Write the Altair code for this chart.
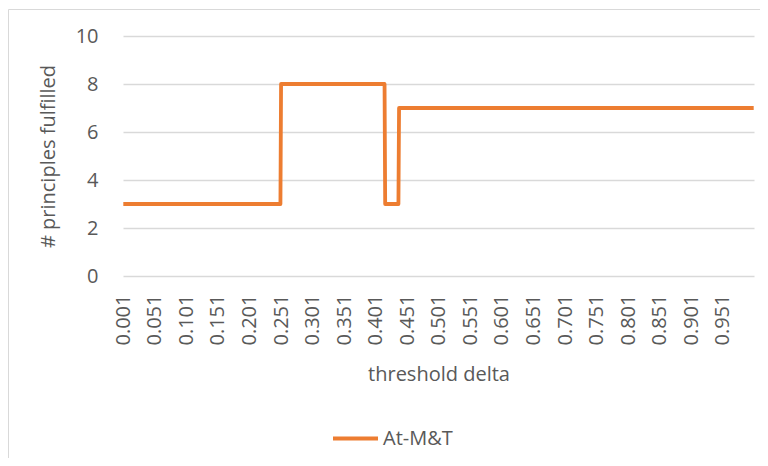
import altair as alt
import pandas as pd

# step vertices of the series (threshold delta -> # principles fulfilled)
delta = [0.001, 0.250, 0.251, 0.415, 0.416, 0.437, 0.438, 1.000]
fulfilled = [3, 3, 8, 8, 3, 3, 7, 7]
series = ["At-M&T"] * len(delta)

x_ticks = [0.001, 0.051, 0.101, 0.151, 0.201, 0.251, 0.301, 0.351, 0.401, 0.451,
           0.501, 0.551, 0.601, 0.651, 0.701, 0.751, 0.801, 0.851, 0.901, 0.951]
y_ticks = [0, 2, 4, 6, 8, 10]

df = pd.DataFrame({"delta": delta, "fulfilled": fulfilled, "series": series})

FONT = "Open Sans"
GREY = "#595959"

line = alt.Chart(df).mark_line(strokeWidth=3.8, strokeJoin="round").encode(
    x=alt.X("delta:Q",
            scale=alt.Scale(domain=[0.0005, 1.0005], nice=False, zero=False),
            axis=alt.Axis(values=x_ticks, format=".3f", labelAngle=-90,
                          title="threshold delta", grid=False, domain=False,
                          ticks=False, tickSize=0, labelPadding=18,
                          titlePadding=20)),
    y=alt.Y("fulfilled:Q",
            scale=alt.Scale(domain=[0, 10], nice=False),
            axis=alt.Axis(values=y_ticks, title="# principles fulfilled",
                          grid=True, gridColor="#d9d9d9", gridWidth=1.5,
                          domain=False, ticks=False, tickSize=0,
                          labelPadding=25, titlePadding=17)),
    color=alt.Color("series:N",
                    scale=alt.Scale(range=["#ED7D31"]),
                    legend=alt.Legend(title=None, orient="none",
                                      legendX=208, legendY=378,
                                      symbolType="stroke", symbolSize=2025,
                                      symbolStrokeWidth=4, labelOffset=3,
                                      padding=0)),
)

border_left = alt.Chart(pd.DataFrame({"k": [0]})).mark_rule(
    color="#d9d9d9", strokeWidth=1).encode(
    x=alt.value(-114.5), y=alt.value(-26.5), y2=alt.value(440))
border_top = alt.Chart(pd.DataFrame({"k": [0]})).mark_rule(
    color="#d9d9d9", strokeWidth=1).encode(
    x=alt.value(-114.5), x2=alt.value(700), y=alt.value(-26.5))

chart = alt.layer(border_left, border_top, line).properties(
    width=631, height=240,
    autosize=alt.AutoSizeParams(type="none"),
    padding={"left": 115, "top": 28, "right": 6, "bottom": 182},
).configure_view(stroke=None).configure_axis(
    labelFont=FONT, titleFont=FONT, labelFontSize=20, titleFontSize=20,
    labelColor=GREY, titleColor=GREY, titleFontWeight="normal",
).configure_legend(
    labelFont=FONT, labelFontSize=20, labelColor=GREY,
)

chart.save("out.html", embed_options={"renderer": "svg", "actions": False})
